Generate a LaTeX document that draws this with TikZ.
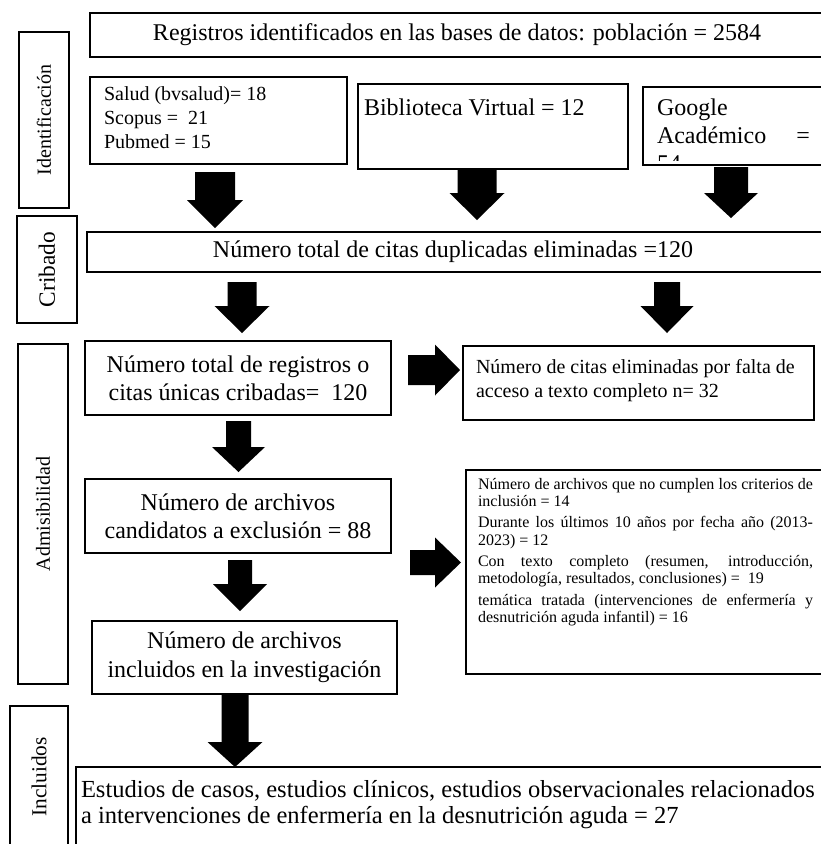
\documentclass[tikz,border=0pt]{standalone}
\usepackage{graphicx}
\usepackage{fontspec}
\setmainfont{Liberation Serif}
\newlength\pxu
\setlength\pxu{0.75pt}
\tikzset{
  box/.style={draw=black, line width=0.9pt, inner sep=0pt, outer sep=0pt, anchor=north west},
  boxtext/.style={inner sep=0pt, outer sep=0pt, anchor=north west},
  boxline/.style={draw=black, line width=0.9pt},
  blockarrow/.style={fill=black, draw=none},
}
% down block arrow: cx, ytop, yhead, ytip, shaft half width, head half width
\newcommand\barrdown[6]{%
  \fill[blockarrow] ({#1-#5},#2) -- ({#1+#5},#2) -- ({#1+#5},#3) -- ({#1+#6},#3) -- (#1,#4)
    -- ({#1-#6},#3) -- ({#1-#5},#3) -- cycle;}
% right block arrow: cy, xleft, xhead, xtip, shaft half width, head half width
\newcommand\barrright[6]{%
  \fill[blockarrow] (#2,{#1-#5}) -- (#3,{#1-#5}) -- (#3,{#1-#6}) -- (#4,#1) -- (#3,{#1+#6})
    -- (#3,{#1+#5}) -- (#2,{#1+#5}) -- cycle;}
\begin{document}
\begin{tikzpicture}[x=0.75pt,y=-0.75pt]
\useasboundingbox (0,0) rectangle (821,844);
\clip (0,0) rectangle (821,844);

% side labels
\node[box] (sideid) at (19,32) {\parbox[t][176\pxu][c]{50\pxu}{\centering\rotatebox{90}{\fontsize{15}{18}\selectfont Identificación}}};
\node[box] (sidecrib) at (17,216) {\parbox[t][107\pxu][c]{60\pxu}{\centering\rotatebox{90}{\fontsize{17.5}{20}\selectfont Cribado}}};
\node[box] (sideadm) at (18,344) {\parbox[t][340\pxu][c]{50\pxu}{\centering\rotatebox{90}{\fontsize{15}{18}\selectfont Admisibilidad}}};
\node[box] (sideinc) at (10,706) {\parbox[t][142\pxu][c]{58\pxu}{\centering\rotatebox{90}{\fontsize{16}{19}\selectfont Incluidos}}};

% identification
\node[box] (top) at (90,13) {\parbox[t][44\pxu][c]{735\pxu}{\fontsize{18}{21}\selectfont\hspace*{63\pxu}Registros identificados en las bases de datos: población = 2584}};
\node[box] (salud) at (90,77) {\parbox[t][87\pxu][t]{257\pxu}{\fontsize{15}{18}\selectfont\leftskip=14\pxu\rule{0pt}{23\pxu}Salud (bvsalud)= 18\\ Scopus = \ 21\\ Pubmed = 15}};
\node[box] (biblio) at (358,84) {\parbox[t][85\pxu][t]{270\pxu}{\fontsize{18}{21}\selectfont\leftskip=6\pxu\rule{0pt}{31\pxu}Biblioteca Virtual = 12}};
\begin{scope}
  \clip (643,87) rectangle (830,160);
  \node[boxtext] (google) at (643,87) {\parbox[t][78\pxu][t]{187\pxu}{\fontsize{18}{21}\selectfont\leftskip=14\pxu\rule{0pt}{28\pxu}Google\\ \makebox[153\pxu][s]{Académico =}\\ 54}};
\end{scope}
\draw[boxline] (google.north west) rectangle (google.south east);

% screening
\node[box] (crib) at (87,232) {\parbox[t][40\pxu][c]{738\pxu}{\fontsize{18}{21}\selectfont\hspace*{126\pxu}Número total de citas duplicadas eliminadas =120}};

% eligibility
\node[box] (reg) at (85,341) {\parbox[t][74\pxu][c]{306\pxu}{\centering\fontsize{18}{21}\selectfont Número total de registros o\\ citas únicas cribadas= \ 120}};
\node[box] (elim) at (463,346) {\parbox[t][74\pxu][t]{351\pxu}{\fontsize{15}{18}\selectfont\leftskip=13\pxu\rule{0pt}{27\pxu}Número de citas eliminadas por falta de\\ acceso a texto completo n= 32}};
\node[box] (cand) at (85,479) {\parbox[t][74\pxu][c]{306\pxu}{\centering\fontsize{18}{21}\selectfont Número de archivos\\ candidatos a exclusión = 88}};
\node[box] (crit) at (466,470) {\parbox[t][204\pxu][t]{364\pxu}{\fontsize{12}{13}\selectfont\leftskip=12\pxu
  \rule{0pt}{19\pxu}\makebox[335\pxu][s]{Número de archivos que no cumplen los criterios de}\\ inclusión = 14\par\vspace{3pt}
  \makebox[335\pxu][s]{Durante los últimos 10 años por fecha año (2013-}\\ 2023) = 12\par\vspace{3pt}
  \makebox[335\pxu][s]{Con texto completo (resumen, introducción,}\\ metodología, resultados, conclusiones) = \ 19\par\vspace{3pt}
  \makebox[335\pxu][s]{temática tratada (intervenciones de enfermería y}\\ desnutrición aguda infantil) = 16\par}};
\node[box] (incl) at (92,621) {\parbox[t][73\pxu][c]{305\pxu}{\centering\fontsize{18}{21.75}\selectfont Número de archivos\\ incluidos en la investigación}};

% included
\node[box] (final) at (76,767) {\parbox[t][100\pxu][t]{754\pxu}{\raggedright\fontsize{18.4}{19.5}\selectfont\leftskip=5\pxu\rule{0pt}{30\pxu}Estudios de casos, estudios clínicos, estudios observacionales relacionados\\ a intervenciones de enfermería en la desnutrición aguda = 27}};

% block arrows
\barrdown{215}{172}{200}{228}{20}{28}
\barrdown{477}{170}{193}{220}{19.5}{27.5}
\barrdown{731}{167}{193}{218}{17}{27}
\barrdown{242}{282}{306}{333}{14.5}{27.5}
\barrdown{667}{282}{306}{333}{13}{26.5}
\barrdown{238.5}{421}{447}{472}{12.5}{26.5}
\barrdown{240}{560}{584}{611}{12}{27}
\barrdown{235}{694}{742}{767}{13.5}{27.5}
\barrright{370}{408}{435}{460}{15}{25.5}
\barrright{562.5}{410}{435}{461}{12.5}{25}
\end{tikzpicture}
\end{document}
